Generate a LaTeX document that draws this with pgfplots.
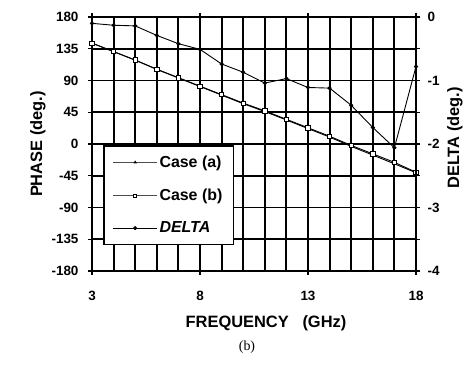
\documentclass[border=0pt]{standalone}
\usepackage{pgfplots}
\pgfplotsset{compat=1.18}
\usepackage{pgfplotstable}
\usepackage{fontspec}
\setmainfont{Liberation Sans}
\newfontfamily\timesfont{Liberation Serif}
\pgfplotstableread{
f caseb casea delta
3 143 142.9 -0.10
4 131 130.87 -0.13
5 119 118.86 -0.14
6 106 105.71 -0.29
7 94 93.58 -0.42
8 82 81.49 -0.51
9 70 69.26 -0.74
10 58 57.13 -0.87
11 47 45.96 -1.04
12 35 34.03 -0.97
13 23 21.89 -1.11
14 11 9.88 -1.12
15 -2 -3.39 -1.39
16 -14 -15.74 -1.74
17 -26 -28.06 -2.06
18 -40 -40.78 -0.78
}\datatable
\begin{document}
\begin{tikzpicture}
\path[use as bounding box] (0,0) rectangle (468bp,367bp);
\begin{axis}[
  at={(92bp,96bp)}, anchor=south west,
  scale only axis, width=324bp, height=254bp,
  xmin=3, xmax=18, ymin=-180, ymax=180,
  xtick={3,8,13,18}, minor xtick={4,5,6,7,9,10,11,12,14,15,16,17},
  ytick={-180,-135,...,180},
  xmajorgrids=true, xminorgrids=true, ymajorgrids=true,
  grid style={draw=black, line width=1.9bp},
  axis line style={black, line width=2.4bp},
  tick align=outside, major tick length=4bp, minor tick length=0pt,
  tick style={black, line width=1.4bp},
  /pgf/number format/assume math mode=true,
  ticklabel style={font=\fontsize{13.5}{16}\selectfont\bfseries},
  yticklabel style={xshift=-6bp},
  xticklabel style={yshift=-13bp},
  xlabel={FREQUENCY\ \ \ (GHz)},
  ylabel={PHASE (deg.)},
  label style={font=\fontsize{16.5}{19}\selectfont\bfseries},
  xlabel style={at={(axis description cs:0.537,-0.205)}, anchor=center},
  ylabel style={at={(axis description cs:-0.167,0.5)}, anchor=center},
]
\addplot[black, line width=0.9bp, mark=triangle*, mark size=1.5bp, mark options={solid, fill=black}] table[x=f, y=casea] {\datatable};
\addplot[black, line width=0.9bp, mark=square*, mark size=2.2bp, mark options={solid, fill=white, line width=0.7bp}] table[x=f, y=caseb] {\datatable};
\end{axis}
\begin{axis}[
  at={(92bp,96bp)}, anchor=south west,
  scale only axis, width=324bp, height=254bp,
  xmin=3, xmax=18, ymin=-4, ymax=0,
  ytick={-4,-3,-2,-1,0},
  axis x line=none, axis y line*=right,
  axis line style={black, line width=2.4bp},
  tick align=outside, major tick length=4bp,
  tick style={black, line width=1.4bp},
  /pgf/number format/assume math mode=true,
  ticklabel style={font=\fontsize{13.5}{16}\selectfont\bfseries},
  yticklabel style={xshift=4bp},
  ylabel={DELTA (deg.)},
  label style={font=\fontsize{16.5}{19}\selectfont\bfseries},
  ylabel style={at={(axis description cs:1.12,0.524)}, anchor=center},
  legend style={at={(0.034,0.496)}, anchor=north west, legend cell align=left,
    draw=black, line width=1.6bp, fill=white,
    font=\fontsize{16}{19}\selectfont\bfseries,
    inner xsep=9bp, inner ysep=8bp, row sep=16bp},
  legend image code/.code={\draw[#1, line width=0.7bp] (0bp,0bp) -- (44bp,0bp) plot coordinates {(22bp,0bp)};},
]
\addlegendimage{black!70, mark=triangle*, mark size=1.2bp, mark options={black}}
\addlegendentry{Case (a)}
\addlegendimage{black!70, mark=square*, mark size=1.5bp, mark options={fill=white, draw=black}}
\addlegendentry{Case (b)}
\addplot[black, line width=0.9bp, mark=*, mark size=1.6bp] table[x=f, y=delta] {\datatable};
\addlegendentry{\itshape DELTA}
\end{axis}
\node[font=\timesfont\fontsize{14}{16}\selectfont] at (247bp,20bp) {(b)};
\end{tikzpicture}
\end{document}
